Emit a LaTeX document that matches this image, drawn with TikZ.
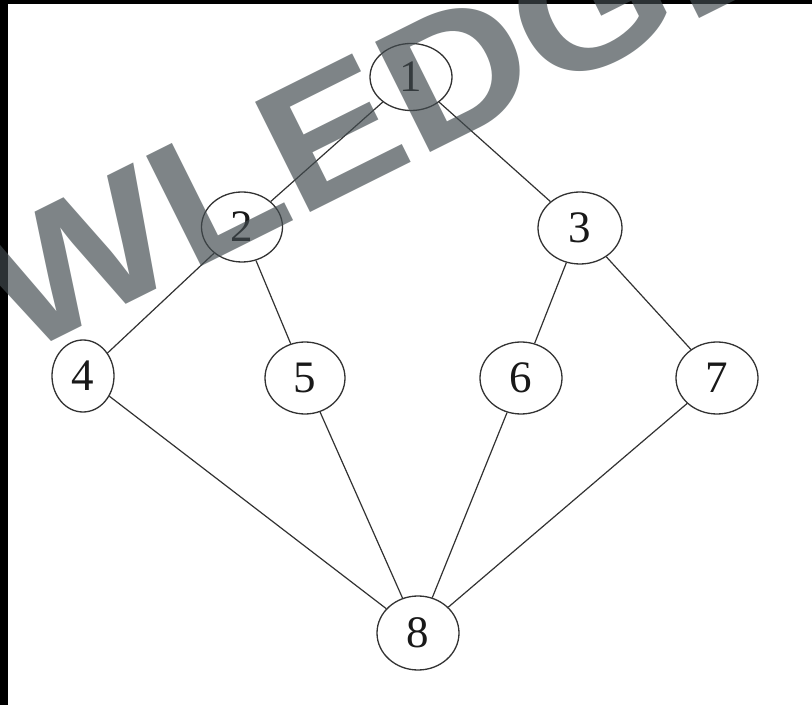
\documentclass[tikz,border=0pt]{standalone}
\usepackage{fontspec}
\setmainfont{Liberation Serif}
\newfontfamily\wmfont{Liberation Sans}
\usetikzlibrary{shapes.geometric}
\definecolor{wmcol}{RGB}{66,75,79}
\definecolor{edgecol}{RGB}{50,50,50}
\definecolor{digitcol}{RGB}{25,25,25}
\tikzset{
  gnode/.style={ellipse, draw=edgecol, line width=1.3pt, inner sep=0pt,
    minimum width=82pt, minimum height=72pt, text=digitcol,
    font=\fontsize{45}{45}\selectfont},
  gedge/.style={draw=edgecol, line width=1.2pt},
  wmark/.style={font=\wmfont\bfseries\fontsize{179}{179}\selectfont, text=wmcol,
    opacity=0.68, inner sep=0pt, anchor=base west},
  blackbar/.style={fill=black, draw=none}
}
\begin{document}
\begin{tikzpicture}[x=1pt,y=1pt]
\useasboundingbox (0,0) rectangle (812,705);
\fill[white] (0,0) rectangle (812,705);
% dark frame edges
\path[blackbar] (0,0) rectangle (8,705);
\path[blackbar] (0,701) rectangle (812,705);
% graph
\node[gnode, minimum height=67pt] (n1) at (411,628) {1};
\node[gnode, minimum width=81pt, minimum height=70pt] (n2) at (242,478) {2};
\node[gnode, minimum width=84pt] (n3) at (580,477) {3};
\node[gnode, minimum width=62pt] (n4) at (83,329) {4};
\node[gnode, minimum width=80pt] (n5) at (305,327) {5};
\node[gnode] (n6) at (521,327) {6};
\node[gnode] (n7) at (717,327) {7};
\node[gnode, minimum height=74pt] (n8) at (418,72) {8};
\path[gedge] (n1) -- (n2);
\path[gedge] (n1) -- (n3);
\path[gedge] (n2) -- (n4);
\path[gedge] (n2) -- (n5);
\path[gedge] (n3) -- (n6);
\path[gedge] (n3) -- (n7);
\path[gedge] (n4) -- (n8);
\path[gedge] (n5) -- (n8);
\path[gedge] (n6) -- (n8);
\path[gedge] (n7) -- (n8);
% watermark
\begin{scope}
\clip (0,0) rectangle (812,705);
\node[wmark, rotate=26.5, xscale=1.12] (wm) at (19.6,347.5) {WLEDGE};
\end{scope}
\end{tikzpicture}
\end{document}
